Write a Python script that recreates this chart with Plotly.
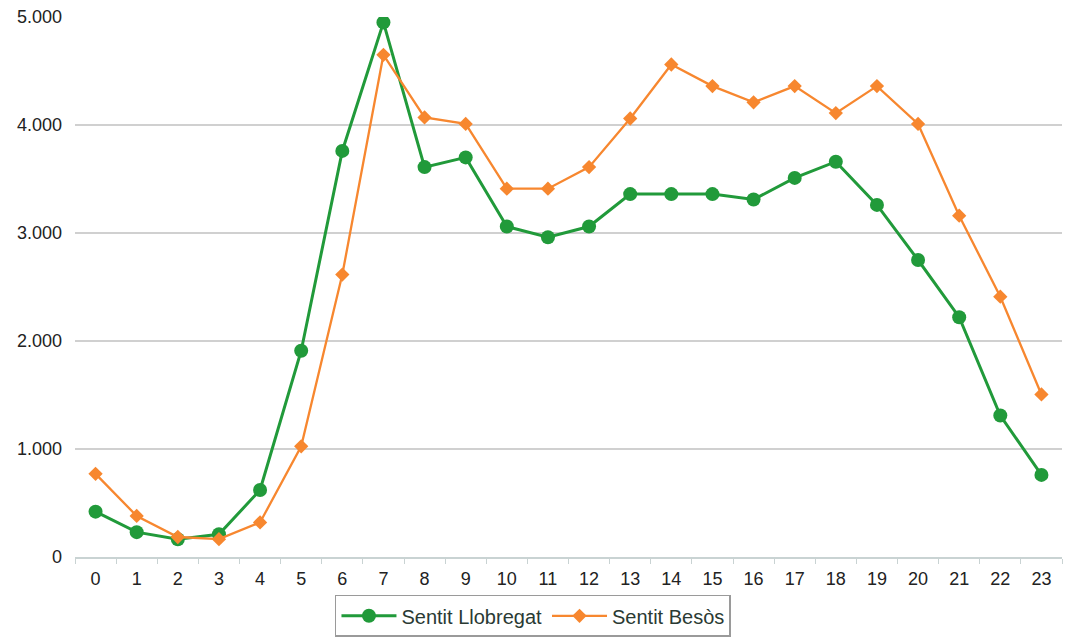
import plotly.graph_objects as go

hours = [str(h) for h in range(24)]
llobregat = [420, 230, 165, 210, 620, 1910, 3760, 4950, 3610, 3700, 3060, 2960,
             3060, 3360, 3360, 3360, 3310, 3510, 3660, 3260, 2750, 2220, 1310, 760]
besos = [770, 380, 185, 165, 320, 1025, 2615, 4650, 4070, 4010, 3410, 3410,
         3610, 4060, 4560, 4360, 4210, 4360, 4110, 4360, 4010, 3160, 2410, 1505]

y_ticks = [0, 1000, 2000, 3000, 4000, 5000]
y_labels = ["0", "1.000", "2.000", "3.000", "4.000", "5.000"]

GREEN = "#219a3a"
ORANGE = "#f7872f"

fig = go.Figure()
fig.add_trace(go.Scatter(
    x=hours, y=llobregat, name="Sentit Llobregat", mode="lines+markers",
    line=dict(color=GREEN, width=3),
    marker=dict(symbol="circle", size=14, color=GREEN),
))
fig.add_trace(go.Scatter(
    x=hours, y=besos, name="Sentit Besòs", mode="lines+markers",
    line=dict(color=ORANGE, width=2.3),
    marker=dict(symbol="diamond", size=11, color=ORANGE),
))

fig.update_layout(
    width=1066, height=640,
    margin=dict(l=75, r=4, t=17, b=82),
    paper_bgcolor="white", plot_bgcolor="white",
    font=dict(family="Liberation Sans, Arial, sans-serif", size=18, color="#222222"),
    showlegend=True,
    legend=dict(
        orientation="h", x=0.464, xanchor="center", y=-0.068, yanchor="top",
        bordercolor="#9a9a9a", borderwidth=1.5, bgcolor="white",
        font=dict(size=20, color="#2a3a33"),
        itemwidth=55,
    ),
)
fig.update_xaxes(
    type="category", range=[-0.5, 23.5],
    showgrid=False, showline=True, linecolor="#c9d3d3", linewidth=1.5,
    ticks="outside", tickson="boundaries", ticklen=5, tickcolor="#c9d3d3",
    ticklabelstandoff=5,
    tickfont=dict(size=18, color="#222222"),
)
fig.update_yaxes(
    range=[0, 5000], tickvals=y_ticks, ticktext=y_labels,
    showgrid=True, gridcolor="#d0d0d0", gridwidth=1.5,
    zeroline=False, showline=False, ticks="",
    ticklabelstandoff=12,
    tickfont=dict(size=18, color="#222222"),
)

fig.write_html("out.html")
